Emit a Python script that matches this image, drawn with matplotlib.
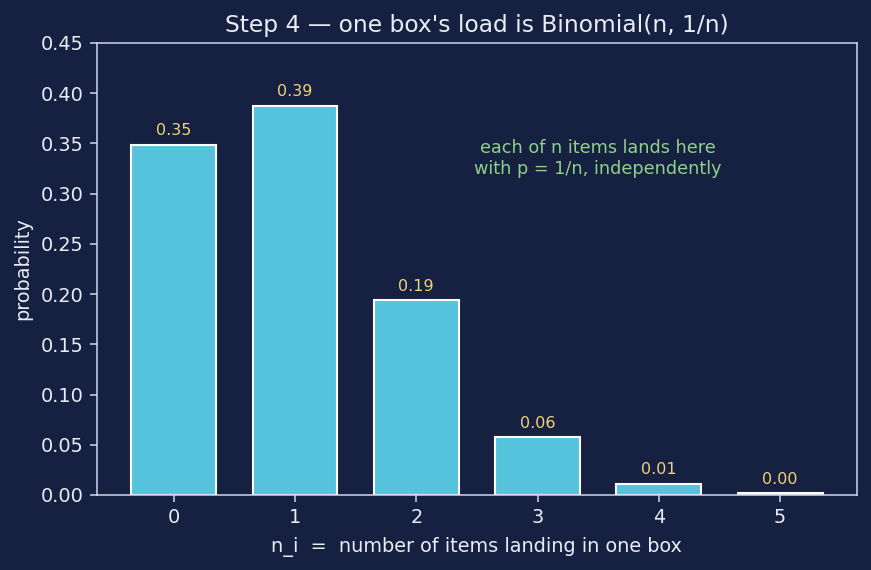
import matplotlib
matplotlib.use("Agg")
import matplotlib.pyplot as plt

k_values = [0, 1, 2, 3, 4, 5]
probabilities = [0.3487, 0.3874, 0.1937, 0.0574, 0.0112, 0.0015]
value_labels = ["0.35", "0.39", "0.19", "0.06", "0.01", "0.00"]

bg = "#162040"
fg = "#e8ecf4"
spine_c = "#d0d8e8"

fig = plt.figure(figsize=(8.71, 5.70), dpi=100, facecolor=bg)
ax = fig.add_axes([0.111, 0.1316, 0.873, 0.793], facecolor=bg)

bars = ax.bar(k_values, probabilities, width=0.7, color="#56c3dd",
              edgecolor="white", linewidth=1.5)
for x, p, lab in zip(k_values, probabilities, value_labels):
    ax.text(x, p + 0.0065, lab, ha="center", va="bottom", fontsize=11.5, color="#f0d27a")

ax.text(3.5, 0.335, "each of n items lands here\nwith p = 1/n, independently",
        ha="center", va="center", fontsize=12.7, color="#8fd18a")

ax.set_ylim(0, 0.45)
ax.set_yticks([0.0, 0.05, 0.10, 0.15, 0.20, 0.25, 0.30, 0.35, 0.40, 0.45])
ax.set_xticks(k_values)
ax.set_title("Step 4 \u2014 one box's load is Binomial(n, 1/n)", color=fg, fontsize=16.8, pad=8)
ax.set_xlabel("n_i  =  number of items landing in one box", color=fg, fontsize=13.9, labelpad=7)
ax.set_ylabel("probability", color=fg, fontsize=13.9, labelpad=6)
ax.tick_params(colors=spine_c, labelcolor=fg, labelsize=13.9, length=4.8, width=1.1, pad=4.8)
for s in ax.spines.values():
    s.set_color(spine_c)
    s.set_linewidth(1.1)

fig.savefig("out.png", dpi=100, facecolor=bg)
